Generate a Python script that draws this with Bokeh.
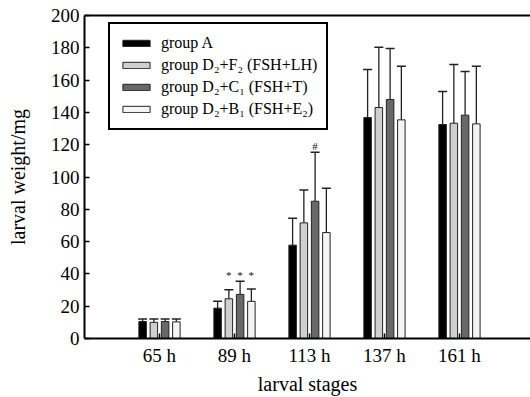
from bokeh.plotting import figure
from bokeh.models import (ColumnDataSource, FixedTicker, LinearAxis, Legend, LegendItem,
                          Whisker, TeeHead, Range1d)
from bokeh.embed import file_html
from bokeh.resources import INLINE

stages = ["65 h", "89 h", "113 h", "137 h", "161 h"]
groups = ["group A", "group D\u2082+F\u2082 (FSH+LH)", "group D\u2082+C\u2081 (FSH+T)",
          "group D\u2082+B\u2081 (FSH+E\u2082)"]
mean_A = [10.5, 18.8, 57.8, 136.8, 132.5]
sd_A = [1.5, 4.2, 16.7, 29.7, 20.5]
mean_F = [10.0, 24.6, 71.6, 143.0, 133.3]
sd_F = [2.0, 5.6, 20.4, 37.3, 36.3]
mean_C = [10.5, 27.3, 85.0, 148.0, 138.3]
sd_C = [1.5, 8.1, 30.3, 31.5, 27.1]
mean_B = [10.3, 23.0, 65.6, 135.4, 132.9]
sd_B = [1.7, 7.6, 27.4, 33.1, 35.6]
sig_A = ["", "", "", "", ""]
sig_F = ["", "*", "", "", ""]
sig_C = ["", "*", "#", "", ""]
sig_B = ["", "*", "", "", ""]

colors = ["#000000", "#cfcfcf", "#686868", "#f4f4f4"]
offsets = [-0.225, -0.075, 0.075, 0.225]
FONT = "Liberation Serif"

p = figure(width=530, height=397, output_backend="svg", toolbar_location=None,
           x_range=Range1d(0, 5.947), y_range=Range1d(0, 200),
           min_border_left=84, min_border_right=0, min_border_top=15, min_border_bottom=59)
p.outline_line_color = None
p.grid.visible = False
p.background_fill_color = "white"
p.border_fill_color = "white"

positions = list(range(1, len(stages) + 1))
series = [(mean_A, sd_A, sig_A), (mean_F, sd_F, sig_F), (mean_C, sd_C, sig_C), (mean_B, sd_B, sig_B)]
group_top = [max(m[j] + s[j] for m, s, _ in series) for j in range(len(stages))]

items = []
for i, (m, s, sig) in enumerate(series):
    xs = [x + offsets[i] for x in positions]
    top = [a + b for a, b in zip(m, s)]
    src = ColumnDataSource(dict(x=xs, y=m, up=top, sig=sig, gt=group_top))
    r = p.vbar(x="x", top="y", bottom=0, width=0.1, source=src,
               fill_color=colors[i], line_color="#222222", line_width=1)
    items.append(LegendItem(label=groups[i], renderers=[r]))
    w = Whisker(source=src, base="x", lower="y", upper="up", dimension="height",
                line_color="#222222", line_width=1.3,
                upper_head=TeeHead(size=9, line_color="#222222", line_width=1.5),
                lower_head=None)
    p.add_layout(w)
    p.text(x="x", y="gt", text="sig", source=src, text_align="center",
           text_baseline="middle", y_offset=-6, text_font_size="11px",
           text_font={"value": FONT}, text_color="#111111")

legend = Legend(items=items, location=(24, 208), glyph_width=34, glyph_height=8,
                label_height=20, spacing=2, padding=9, label_standoff=8,
                label_text_font=FONT, label_text_font_size="16px", label_text_color="black",
                border_line_color="black", border_line_width=2, border_line_alpha=1,
                background_fill_color="white", background_fill_alpha=1)
p.add_layout(legend)

# axes
xa = p.xaxis[0]
xa.ticker = FixedTicker(ticks=positions)
xa.major_label_overrides = {pos: lab for pos, lab in zip(positions, stages)}
xa.axis_label = "larval stages"
ya = p.yaxis[0]
ya.ticker = FixedTicker(ticks=list(range(0, 201, 20)))
ya.axis_label = "larval weight/mg"
for ax in (xa, ya):
    ax.axis_line_color = "black"
    ax.axis_line_width = 2
    ax.major_tick_in = 5
    ax.major_tick_out = 0
    ax.major_tick_line_color = "black"
    ax.major_tick_line_width = 1.5
    ax.minor_tick_line_color = None
    ax.major_label_text_font = FONT
    ax.major_label_text_font_size = "19px"
    ax.major_label_text_color = "black"
    ax.axis_label_text_font = FONT
    ax.axis_label_text_font_size = "20px"
    ax.axis_label_text_font_style = "normal"
    ax.axis_label_text_color = "black"
xa.major_label_standoff = 6
xa.axis_label_standoff = 4
ya.major_label_standoff = 5
ya.axis_label_standoff = 19

top_axis = LinearAxis(ticker=FixedTicker(ticks=[]), major_label_text_font_size="0px",
                      axis_line_color="black", axis_line_width=2,
                      major_tick_line_color=None, minor_tick_line_color=None)
p.add_layout(top_axis, "above")

open("out.html", "w").write(file_html(p, INLINE))
